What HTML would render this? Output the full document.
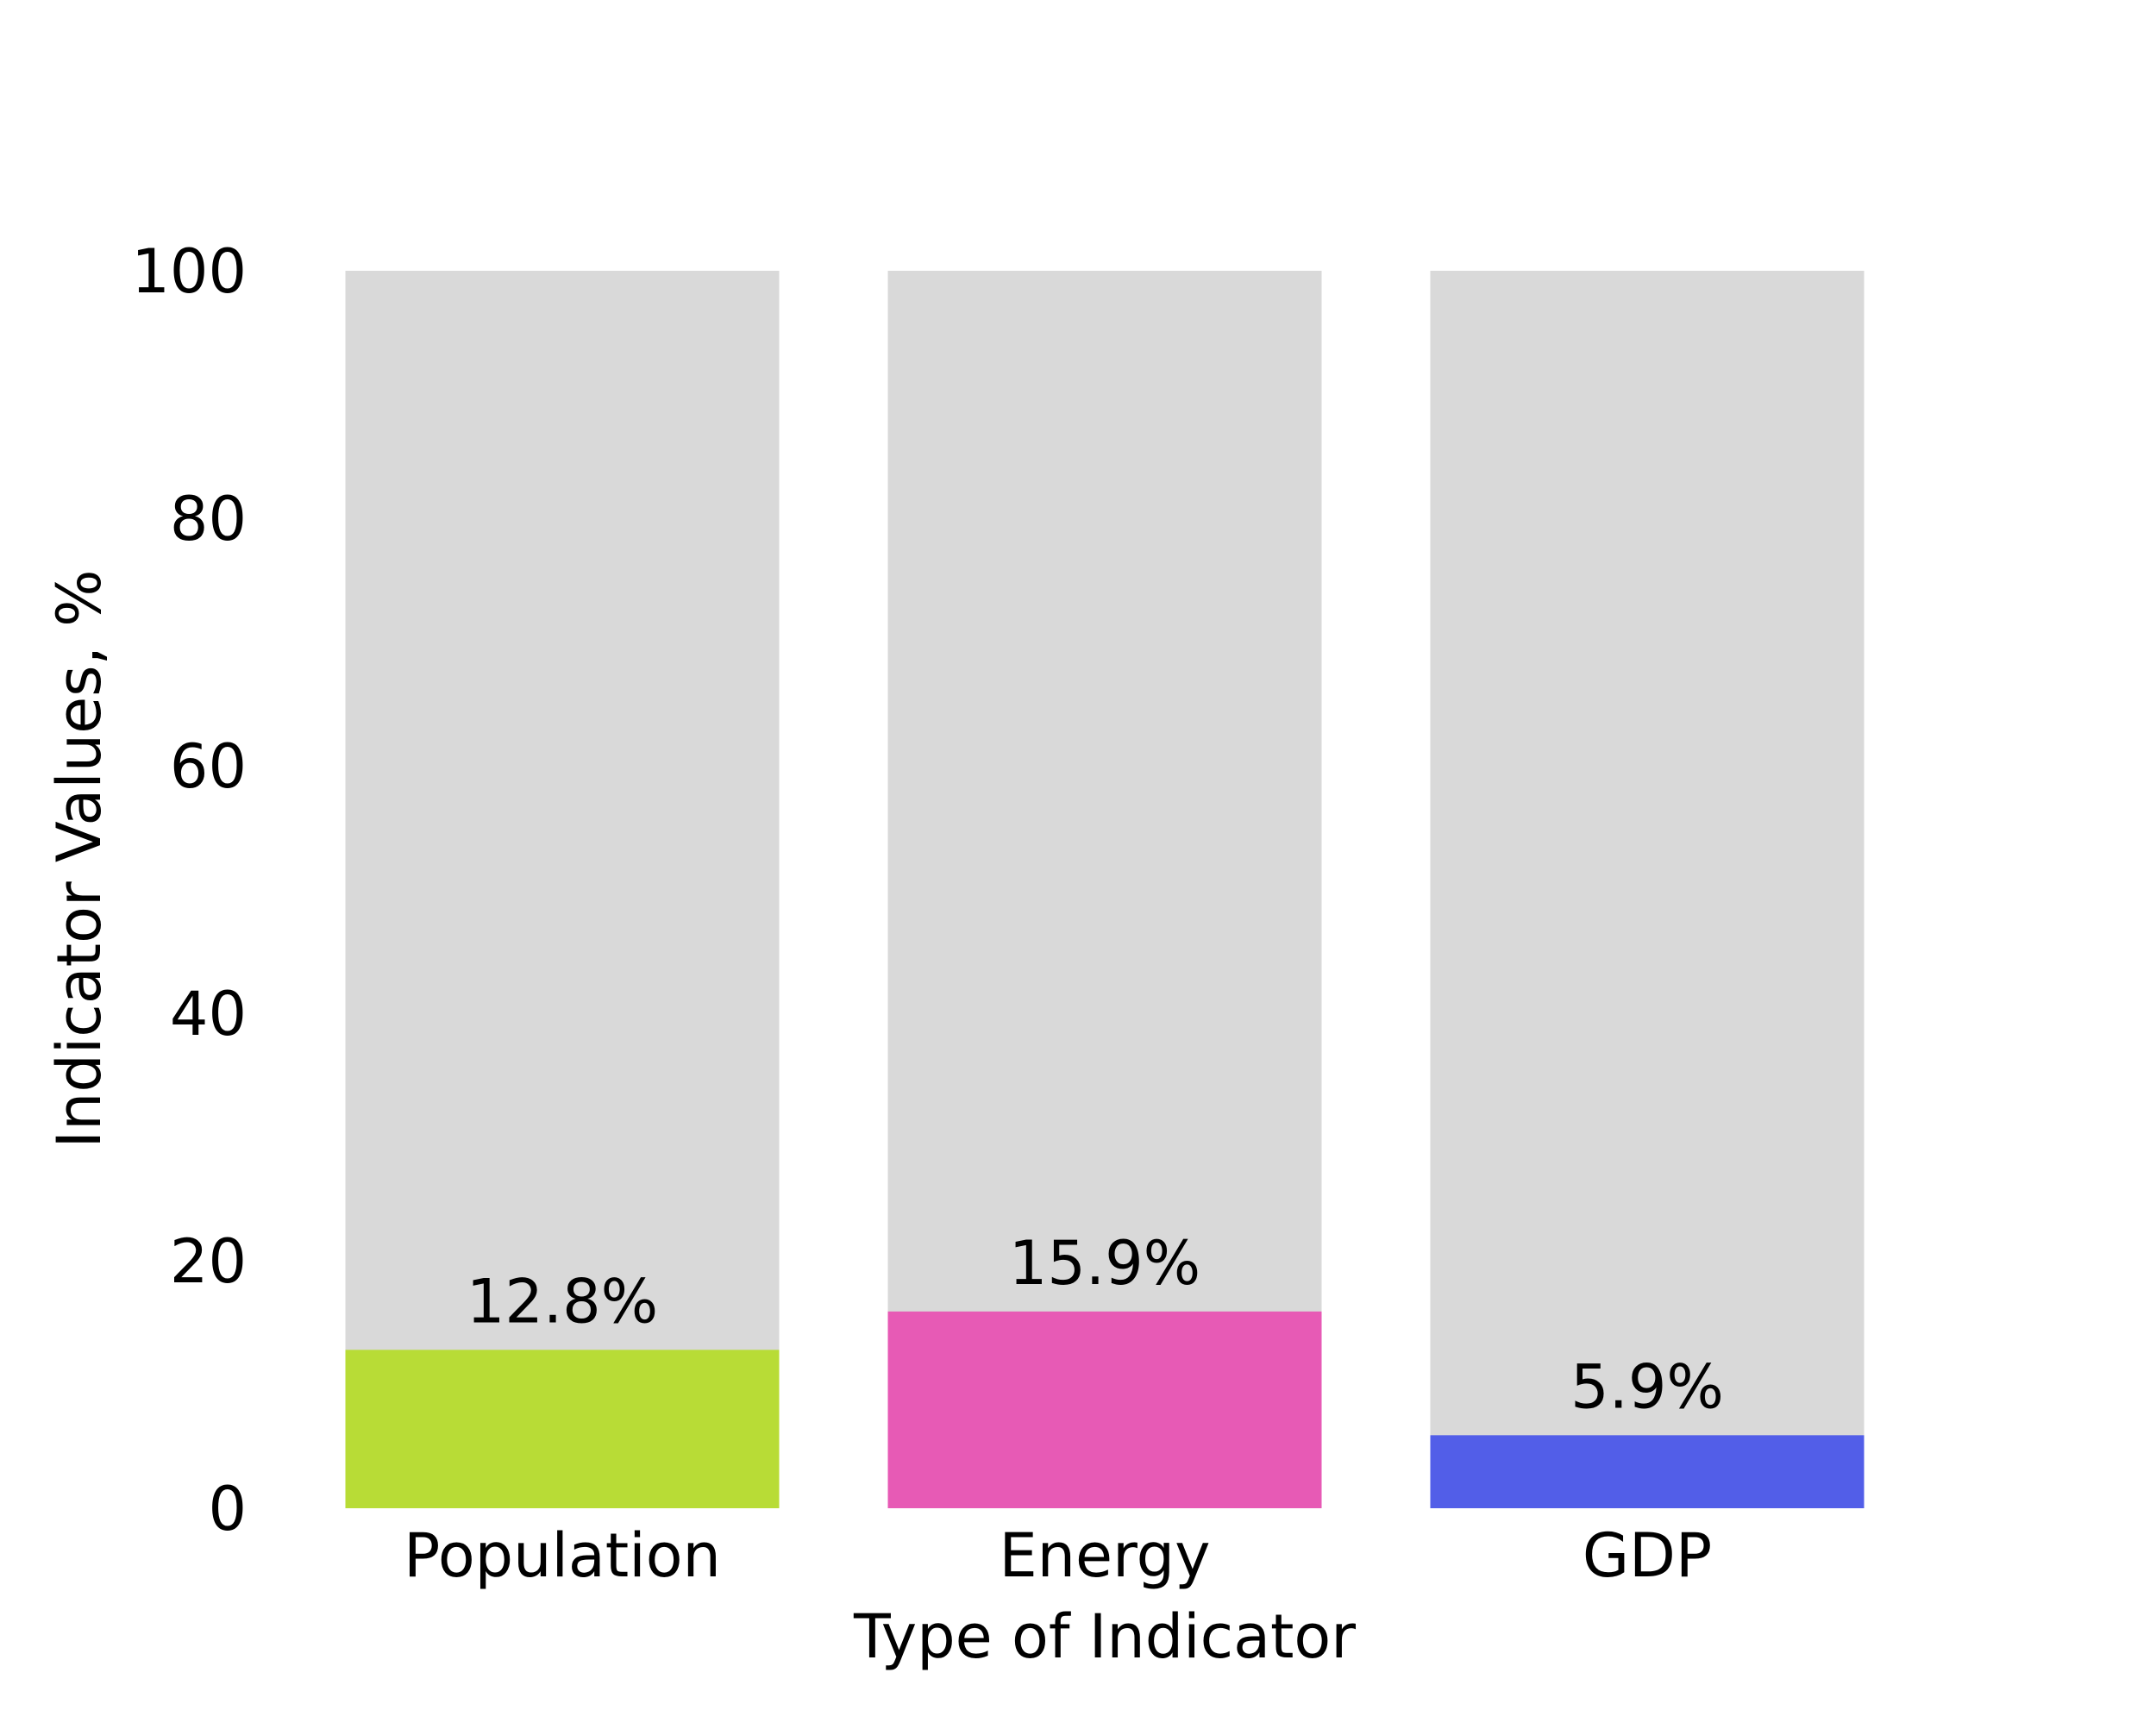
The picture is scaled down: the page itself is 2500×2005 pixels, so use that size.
<!DOCTYPE html>
<html><head><meta charset="utf-8"><style>
html,body{margin:0;padding:0;background:#fff;}
svg text{font-family:"DejaVu Sans","Liberation Sans",sans-serif;fill:#000;}
</style></head><body>
<svg id="chart" width="2500" height="2000" viewBox="0 0 2500 2000" xmlns="http://www.w3.org/2000/svg">
<g id="bg"></g>
<g id="bars"></g>
<g id="labels"></g>
<g id="yticks"></g>
<g id="xticks"></g>
<text x="1281" y="1922" font-size="70" text-anchor="middle">Type of Indicator</text>
<text x="0" y="0" font-size="70" text-anchor="middle" transform="translate(116,996) rotate(-90)">Indicator Values, %</text>
</svg>
<script>
const categories = ["Population", "Energy", "GDP"];
const values = [12.8, 15.9, 5.9];
const colors = ["#b8dc36", "#e75ab5", "#525ee8"];
const yTicks = [0, 20, 40, 60, 80, 100];
const NS = "http://www.w3.org/2000/svg";
const y0 = 1749, y100 = 314;
function yScale(v){ return y0 - (v/100)*(y0-y100); }
function xCenter(i){ return 652 + i*629; }
const bw = 503;
function mk(tag, attrs, parent){ const e=document.createElementNS(NS,tag); for(const k in attrs) e.setAttribute(k,attrs[k]); parent.appendChild(e); return e; }
const bg=document.getElementById('bg'), bars=document.getElementById('bars'), labels=document.getElementById('labels');
const yt=document.getElementById('yticks'), xt=document.getElementById('xticks');
categories.forEach((c,i)=>{
  const x=xCenter(i)-bw/2;
  const r=mk('rect',{x:x,y:yScale(100),width:bw,height:yScale(0)-yScale(100),fill:'#d9d9d9'},bg);
  
  
  const b=mk('rect',{x:x,y:yScale(values[i]),width:bw,height:yScale(0)-yScale(values[i]),fill:colors[i]},bars);
  
  
  const t=mk('text',{x:xCenter(i),y:yScale(values[i])-32,'font-size':70,'text-anchor':'middle'},labels);
  t.textContent=values[i].toFixed(1)+'%';
  
  
  const xl=mk('text',{x:xCenter(i),y:1828,'font-size':70,'text-anchor':'middle'},xt);
  xl.textContent=c;
  
  
});
yTicks.forEach(v=>{
  const t=mk('text',{x:286,y:yScale(v)+25,'font-size':70,'text-anchor':'end'},yt);
  t.textContent=v;
  
  
});
</script>
</body></html>
